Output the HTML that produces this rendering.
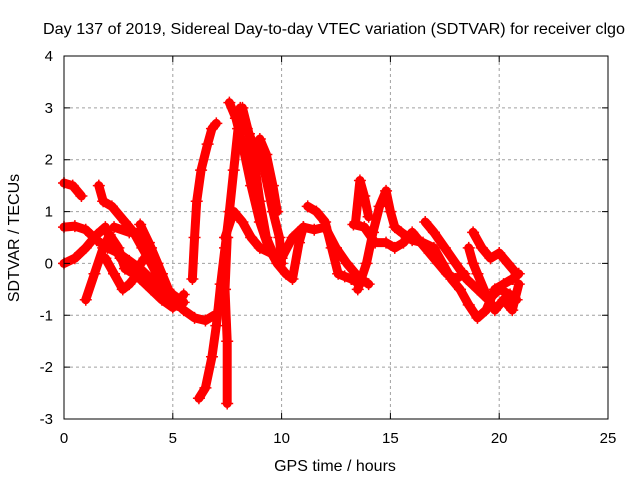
<!DOCTYPE html>
<html><head><meta charset="utf-8"><style>
body{margin:0;background:#fff}
svg{display:block;font-family:"Liberation Sans",sans-serif}
</style></head><body>
<svg width="640" height="480" viewBox="0 0 640 480" xmlns="http://www.w3.org/2000/svg">
<rect width="640" height="480" fill="#fff"/>
<g id="grid"></g>
<g id="series"></g>
<rect x="64" y="56" width="544" height="363" fill="none" stroke="#000" stroke-width="1"/>
<g id="ticks"></g>
<text x="334" y="34" font-size="16" text-anchor="middle" textLength="582" lengthAdjust="spacingAndGlyphs">Day 137 of 2019, Sidereal Day-to-day VTEC variation (SDTVAR) for receiver clgo</text>
<text x="335" y="471" font-size="16" text-anchor="middle">GPS time / hours</text>
<text x="19" y="238" font-size="16" text-anchor="middle" transform="rotate(-90 19 238)">SDTVAR / TECUs</text>
</svg>
<script>
const xTicks=[0,5,10,15,20,25];
const yTicks=[-3,-2,-1,0,1,2,3,4];
const trackA=[[0,1.55],[0.4,1.5],[0.8,1.3]];
const trackB=[[0,0.7],[0.5,0.72],[1,0.65],[1.5,0.45],[2,0.3],[2.5,0.2],[3,0.05],[3.5,-0.1],[4,-0.3],[4.5,-0.5],[5,-0.7],[5.5,-0.9],[6,-1.05],[6.5,-1.1],[6.9,-1.0]];
const trackC=[[0,0],[0.5,0.1],[1,0.3],[1.5,0.55],[1.9,0.7],[2.2,0.4],[2.6,0.1],[3,-0.1],[3.5,-0.3],[4,-0.5],[4.5,-0.7],[5,-0.85]];
const trackD=[[1.0,-0.7],[1.4,-0.2],[1.8,0.3],[2.1,0.55],[2.5,0.3],[2.8,-0.1],[3.2,-0.2],[3.7,0.1],[4,0.2]];
const trackE=[[1.6,1.5],[1.8,1.2],[2.2,1.1],[2.8,0.8],[3.2,0.6],[3.6,0.3],[4.0,0],[4.5,-0.4],[5,-0.6],[5.5,-0.75]];
const trackF=[[3.5,0.75],[3.9,0.4],[4.3,0.0],[4.7,-0.5],[5.2,-0.8],[5.5,-0.6]];
const trackG=[[6.2,-2.6],[6.5,-2.4],[6.8,-1.8],[7.0,-1.2],[7.2,-0.4],[7.4,0.3],[7.6,1.0],[7.8,1.8],[8.0,2.6],[8.2,3.0],[8.5,2.5],[8.8,1.8],[9.0,1.2],[9.3,0.5],[9.6,0.2]];
const trackH=[[5.9,-0.3],[6.0,0.5],[6.1,1.2],[6.3,1.8],[6.6,2.3],[6.8,2.6],[7.0,2.7]];
const trackH2=[[7.5,-2.7],[7.5,-1.5],[7.4,-0.5],[7.5,0.5]];
const trackI=[[7.6,3.1],[7.9,2.8],[8.2,2.3],[8.6,1.5],[9.0,0.8],[9.4,0.3],[9.8,0.0],[10.2,-0.2],[10.5,-0.3],[10.8,0.4],[11,0.7]];
const trackJ=[[8.1,3.0],[8.4,2.6],[8.8,2.2],[9.2,1.8],[9.6,1.0],[9.9,0.5],[10.0,0.0]];
const trackK=[[9.0,2.4],[9.3,2.1],[9.6,1.5],[9.8,1.0]];
const trackL=[[7.4,0.5],[7.8,1.0],[8.2,0.8],[8.6,0.5],[9.0,0.3],[9.5,0.2],[10,0.1],[10.5,0.5],[11,0.7],[11.5,0.65],[12,0.7],[12.5,0.3],[13,0.0],[13.5,-0.25],[14,-0.4]];
const trackM=[[11.2,1.1],[11.6,1.0],[12.0,0.8],[12.3,0.3],[12.6,-0.2],[12.9,-0.25],[13.2,-0.3],[13.6,-0.4]];
const trackN=[[13.4,0.8],[13.6,1.6],[13.8,1.3],[14,0.9]];
const trackO=[[13.5,-0.5],[13.9,0.0],[14.2,0.6],[14.5,1.1],[14.8,1.4],[15.0,1.0],[15.2,0.7],[15.5,0.6],[16,0.45],[16.5,0.4],[17,0.3],[17.4,0.0],[17.8,-0.3],[18.2,-0.5],[18.6,-0.8],[19.0,-1.05],[19.4,-0.9],[19.8,-0.5],[20.2,-0.4],[20.6,-0.3],[20.9,-0.2]];
const trackP=[[13.3,0.75],[13.8,0.7],[14.3,0.4],[14.8,0.4],[15.2,0.3],[15.6,0.4],[16.0,0.6],[16.4,0.4],[16.8,0.2],[17.2,0.0],[17.6,-0.2],[18.0,-0.3],[18.4,-0.2]];
const trackQ=[[16.6,0.8],[17,0.6],[17.5,0.3],[18,0],[18.5,-0.3],[19,-0.5],[19.5,-0.7],[20,-0.5],[20.5,-0.6],[20.8,-0.7]];
const trackR=[[18.6,0.3],[18.8,0.0],[19,-0.2],[19.4,-0.6],[19.8,-0.9],[20.2,-0.7],[20.6,-0.9],[20.9,-0.4]];
const trackS=[[18.8,0.6],[19.2,0.3],[19.6,0.1],[20,0.2],[20.4,0.0],[20.8,-0.2]];
const trackT=[[2.3,0.7],[3,0.6],[3.5,0.6],[4,0.3],[4.5,-0.2],[4.8,-0.5]];
const trackU=[[1.9,0.1],[2.3,-0.2],[2.7,-0.5],[3.0,-0.4],[3.4,-0.2],[3.8,-0.3],[4.2,-0.4],[4.6,-0.6],[5,-0.8]];
const tracks=[trackA,trackB,trackC,trackD,trackE,trackF,trackG,trackH,trackH2,trackI,trackJ,trackK,trackL,trackM,trackN,trackO,trackP,trackQ,trackR,trackS,trackT,trackU];

const NS="http://www.w3.org/2000/svg";
const X0=64,X1=608,Y0=419,Y1=56;
function xs(v){return X0+(v-0)/(25-0)*(X1-X0);}
function ys(v){return Y0-(v+3)/(4+3)*(Y0-Y1);}
const grid=document.getElementById('grid'),ticks=document.getElementById('ticks'),ser=document.getElementById('series');
function mk(tag,attrs,parent){const e=document.createElementNS(NS,tag);for(const k in attrs)e.setAttribute(k,attrs[k]);parent.appendChild(e);return e;}
xTicks.forEach(t=>{
  const x=xs(t);
  if(t>0&&t<25){const g=mk('line',{x1:x,x2:x,y1:Y1,y2:Y0,stroke:'#a0a0a0','stroke-dasharray':'3,3'},grid);
  
  }
  const tk=mk('path',{d:`M${x},${Y0}v-6M${x},${Y1}v6`,stroke:'#000'},ticks);
  
  
  const l=mk('text',{x:x,y:Y0+24,'font-size':15,'text-anchor':'middle'},ticks);l.textContent=t;
  
  
});
yTicks.forEach(t=>{
  const y=ys(t);
  if(t>-3&&t<4){const g=mk('line',{x1:X0,x2:X1,y1:y,y2:y,stroke:'#a0a0a0','stroke-dasharray':'3,3'},grid);
  
  }
  const tk=mk('path',{d:`M${X0},${y}h6M${X1},${y}h-6`,stroke:'#000'},ticks);
  
  
  const l=mk('text',{x:X0-11,y:y+5,'font-size':15,'text-anchor':'end'},ticks);l.textContent=t;
  
  
});
tracks.forEach(tr=>{
  const p=mk('polyline',{points:tr.map(d=>xs(d[0])+','+ys(d[1])).join(' '),fill:'none',stroke:'#ff0000','stroke-width':9,'stroke-linejoin':'round','stroke-linecap':'round'},ser);
  
  
  tr.forEach(d=>{
    const m=mk('path',{d:`M${xs(d[0])-6},${ys(d[1])}h12M${xs(d[0])},${ys(d[1])-6}v12`,stroke:'#ff0000','stroke-width':1.5},ser);
    
    
  });
});
</script>
</body></html>
